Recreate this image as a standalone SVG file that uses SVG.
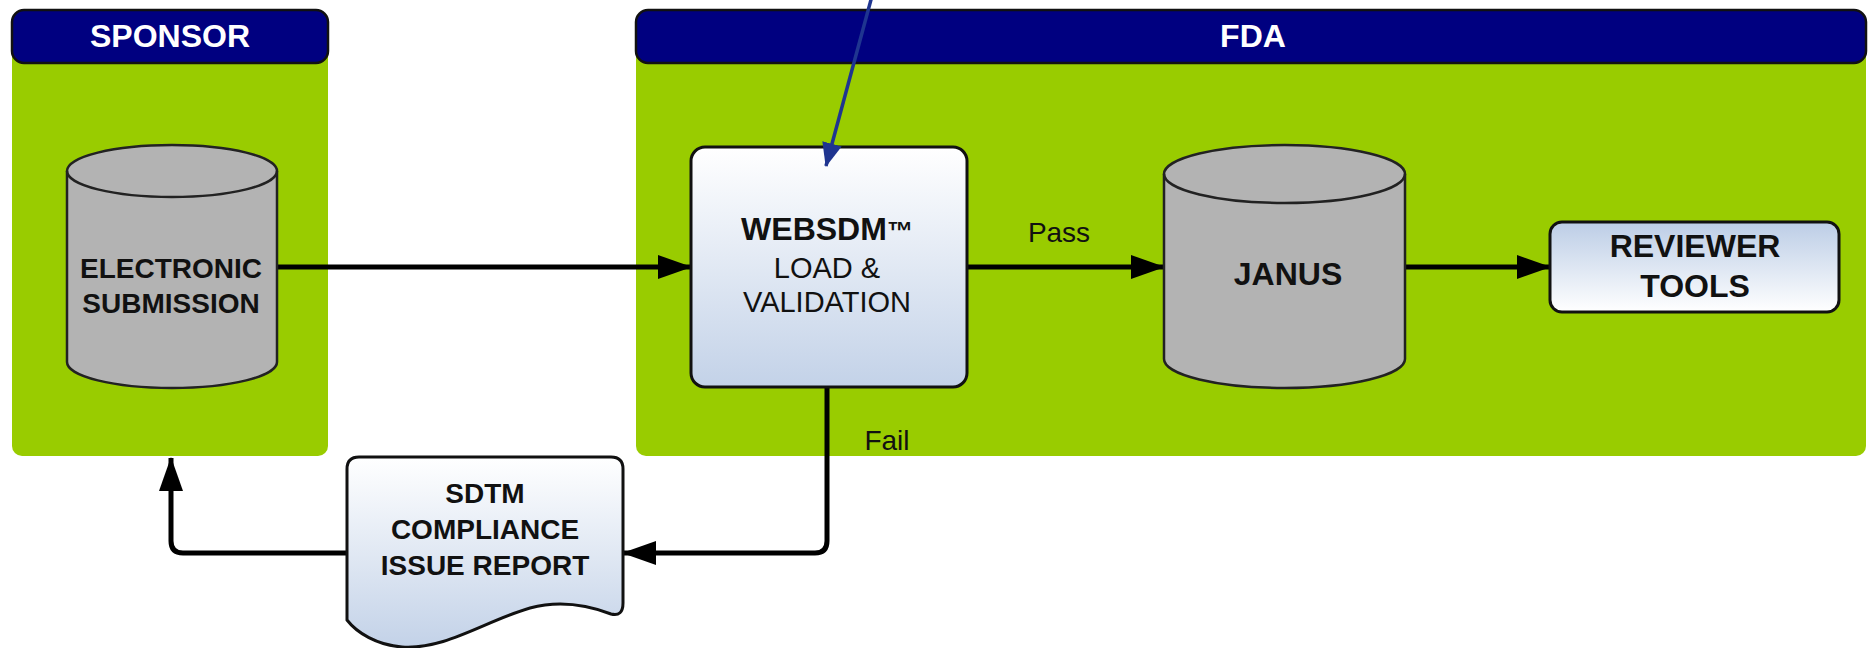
<svg xmlns="http://www.w3.org/2000/svg" width="1868" height="648" viewBox="0 0 1868 648">
<defs>
<style>
.panel{fill:#99cc00}
.hdr{fill:#000080;stroke:#111;stroke-width:2.5}
.hdrtxt{font-family:"Liberation Sans",Arial,sans-serif;font-weight:bold;font-size:32px;fill:#fff;text-anchor:middle}
.cyl{fill:#b3b3b3;stroke:#222;stroke-width:2.5}
.box{stroke:#111;stroke-width:3}
.b{font-family:"Liberation Sans",Arial,sans-serif;font-weight:bold;font-size:28px;fill:#111;text-anchor:middle}
.r{font-family:"Liberation Sans",Arial,sans-serif;font-size:29px;fill:#111;text-anchor:middle}
.conn{fill:none;stroke:#000;stroke-width:5}
</style>
<linearGradient id="gDown" x1="0" y1="0" x2="0" y2="1">
<stop offset="0" stop-color="#ffffff"/><stop offset="1" stop-color="#c3d2e8"/>
</linearGradient>
<linearGradient id="gUp" x1="0" y1="0" x2="0" y2="1">
<stop offset="0" stop-color="#bccde6"/><stop offset="1" stop-color="#ffffff"/>
</linearGradient>
<marker id="ah" markerUnits="userSpaceOnUse" markerWidth="34" markerHeight="24" refX="33" refY="12" orient="auto">
<path d="M0,0 L34,12 L0,24 Z" fill="#000"/>
</marker>
<marker id="ahb" markerUnits="userSpaceOnUse" markerWidth="24" markerHeight="20" refX="23" refY="10" orient="auto">
<path d="M0,0 L24,10 L0,20 Z" fill="#1f3590"/>
</marker>
</defs>
<rect width="1868" height="648" fill="#fff"/>

<g id="sponsor">
<rect class="panel" x="12" y="30" width="316" height="426" rx="10"/>
<rect class="hdr" x="12" y="10" width="316" height="53" rx="12"/>
<text class="hdrtxt" x="170" y="47">SPONSOR</text>
</g>

<g id="fda">
<rect class="panel" x="636" y="30" width="1230" height="426" rx="10"/>
<rect class="hdr" x="636" y="10" width="1230" height="53" rx="12"/>
<text class="hdrtxt" x="1253" y="47">FDA</text>
</g>

<g id="connectors">
<path class="conn" d="M277,267 H691" marker-end="url(#ah)"/>
<path class="conn" d="M967,267 H1164" marker-end="url(#ah)"/>
<path class="conn" d="M1405,267 H1550" marker-end="url(#ah)"/>
<path class="conn" d="M827,387 V541 Q827,553 815,553 H623" marker-end="url(#ah)"/>
<path class="conn" d="M347,553 H183 Q171,553 171,541 V458" marker-end="url(#ah)"/>
</g>

<g id="electronic-submission">
<path class="cyl" d="M67,171 V362 A105,26 0 0 0 277,362 V171 A105,26 0 0 0 67,171 Z"/>
<path d="M67,171 A105,26 0 0 0 277,171" fill="none" stroke="#222" stroke-width="2.5"/>
<text class="b" x="171" y="278">ELECTRONIC</text>
<text class="b" x="171" y="313">SUBMISSION</text>
</g>

<g id="websdm">
<rect class="box" x="691" y="147" width="276" height="240" rx="14" fill="url(#gDown)"/>
<text class="b" x="827" y="240" style="font-size:32px">WEBSDM<tspan style="font-size:26px">™</tspan></text>
<text class="r" x="827" y="278">LOAD &amp;</text>
<text class="r" x="827" y="312">VALIDATION</text>
</g>

<g id="janus">
<path class="cyl" d="M1164,174 V359 A120.5,29 0 0 0 1405,359 V174 A120.5,29 0 0 0 1164,174 Z"/>
<path d="M1164,174 A120.5,29 0 0 0 1405,174" fill="none" stroke="#222" stroke-width="2.5"/>
<text class="b" x="1288" y="285" style="font-size:32px">JANUS</text>
</g>

<g id="reviewer-tools">
<rect class="box" x="1550" y="222" width="289" height="90" rx="12" fill="url(#gUp)"/>
<text class="b" x="1695" y="257" style="font-size:32px">REVIEWER</text>
<text class="b" x="1695" y="297" style="font-size:32px">TOOLS</text>
</g>

<g id="sdtm-report">
<path class="box" fill="url(#gDown)" d="M347,469 Q347,457 359,457 H611 Q623,457 623,469 V603 Q623,617 611,614 C590,606 560,600 530,608 C485,621 445,650 402,647 C377,645 357,633 347,620 Z"/>
<text class="b" x="485" y="503">SDTM</text>
<text class="b" x="485" y="539">COMPLIANCE</text>
<text class="b" x="485" y="575">ISSUE REPORT</text>
</g>

<g id="labels">
<text class="r" x="1059" y="242" style="font-size:28px">Pass</text>
<text class="r" x="887" y="450" style="font-size:28px">Fail</text>
</g>

<g id="pointer">
<path d="M872,-4 L826,166" fill="none" stroke="#1f3590" stroke-width="3.5" marker-end="url(#ahb)"/>
</g>
</svg>
